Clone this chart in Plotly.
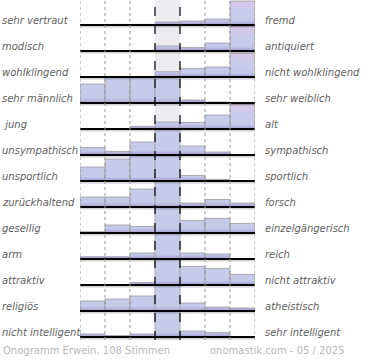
import plotly.graph_objects as go

left_labels = ["sehr vertraut", "modisch", "wohlklingend", "sehr männlich", " jung",
               "unsympathisch", "unsportlich", "zurückhaltend", "gesellig", "arm",
               "attraktiv", "religiös", "nicht intelligent"]
right_labels = ["fremd", "antiquiert", "nicht wohlklingend", "sehr weiblich", "alt",
                "sympathisch", "sportlich", "forsch", "einzelgängerisch", "reich",
                "nicht attraktiv", "atheistisch", "sehr intelligent"]

# bar heights for each of the 7 scale positions (rows in label order); a full row = 26
pos_1 = [0, 0, 0, 19, 0, 7.6, 14, 10, 1.3, 2.3, 0, 10, 3]
pos_2 = [0.6, 0, 0, 26, 0, 3.6, 22, 10, 8, 2.3, 0, 12, 1.5]
pos_3 = [0.6, 0.6, 0, 26, 2.6, 13, 26, 18, 6.6, 6, 2.6, 15, 3]
pos_4 = [3, 5, 5.3, 26, 7, 26, 26, 26, 26, 26, 26, 26, 26]
pos_5 = [4, 3.6, 8.6, 3, 6.6, 9, 5.6, 4, 12.6, 6, 18.6, 8, 6]
pos_6 = [6, 8, 10, 1, 14, 3, 1.6, 7.5, 14.6, 5, 16.6, 4, 4.6]
pos_7 = [24, 24.6, 24, 0, 24.6, 0, 0, 4, 9.6, 0, 10.6, 3, 0]

footer_left = "Onogramm Erwein, 108 Stimmen"
footer_right = "onomastik.com - 05 / 2025"

positions = [pos_1, pos_2, pos_3, pos_4, pos_5, pos_6, pos_7]
ROW = 26
n_rows = len(left_labels)

W, H = 370, 360
ML, MR, MT, MB = 80, 115, 0, 20
PLOT_W = W - ML - MR
PLOT_H = H - MT - MB

blue_scale = [[0, "#a395cb"], [0.09, "#b4b4de"], [0.17, "#c5c9e9"], [1, "#c9cdeb"]]
pink_scale = [[0, "#a395cb"], [0.09, "#b4b4de"], [0.17, "#c5c9e9"], [0.55, "#c9cbeb"], [1, "#ddc7e6"]]

fig = go.Figure()

for i in range(n_rows):
    base = (n_rows - 1 - i) * ROW
    for j, col in enumerate(positions):
        h = col[i]
        if h <= 0:
            continue
        fig.add_trace(go.Scatter(
            x=[j, j, j + 1, j + 1, j],
            y=[base, base + h, base + h, base, base],
            mode="lines", fill="toself",
            fillgradient=dict(type="vertical",
                              colorscale=pink_scale if j == 6 else blue_scale,
                              start=base, stop=base + ROW),
            line=dict(color="rgba(160,160,168,0.85)", width=1),
            hoverinfo="skip", showlegend=False,
        ))

for i in range(n_rows):
    base = (n_rows - 1 - i) * ROW
    fig.add_trace(go.Scatter(x=[0, 7], y=[base - 1.5, base - 1.5], mode="lines",
                             line=dict(color="rgba(0,0,0,0.18)", width=2),
                             hoverinfo="skip", showlegend=False))
    fig.add_trace(go.Scatter(x=[0, 7], y=[base, base], mode="lines",
                             line=dict(color="black", width=2),
                             hoverinfo="skip", showlegend=False))

shapes = [dict(type="rect", xref="x", yref="paper", x0=3, x1=4, y0=0, y1=1,
               fillcolor="#ececf0", line=dict(width=0), layer="below")]
for xv in [0, 1, 2, 5, 6, 7]:
    shapes.append(dict(type="line", xref="x", yref="paper", x0=xv, x1=xv, y0=0, y1=1,
                       line=dict(color="#999999", width=1, dash="dot"), layer="above"))
for xv in [3, 4]:
    shapes.append(dict(type="line", xref="x", yref="paper", x0=xv, x1=xv, y0=0, y1=1,
                       line=dict(color="black", width=1.2, dash="dash"), layer="above"))

label_font = dict(family="DejaVu Sans", size=10, color="#606060")
annotations = []
for i in range(n_rows):
    base = (n_rows - 1 - i) * ROW
    annotations.append(dict(text=f"<i>{left_labels[i]}</i>", xref="paper", yref="y",
                            x=-ML / PLOT_W, y=base, xanchor="left", yanchor="bottom",
                            yshift=-3, showarrow=False, font=label_font))
    annotations.append(dict(text=f"<i>{right_labels[i]}</i>", xref="paper", yref="y",
                            x=(263 - ML) / PLOT_W, y=base, xanchor="left", yanchor="bottom",
                            yshift=-3, showarrow=False, font=label_font))

foot_font = dict(family="DejaVu Sans", size=10, color="#b8b8b8")
annotations.append(dict(text=footer_left, xref="paper", yref="paper",
                        x=-(ML - 1) / PLOT_W, y=-18 / PLOT_H, xanchor="left", yanchor="bottom",
                        showarrow=False, font=foot_font))
annotations.append(dict(text=footer_right, xref="paper", yref="paper",
                        x=(347 - ML) / PLOT_W, y=-18 / PLOT_H, xanchor="right", yanchor="bottom",
                        showarrow=False, font=foot_font))

fig.update_layout(
    width=W, height=H,
    margin=dict(l=ML, r=MR, t=MT, b=MB),
    paper_bgcolor="white", plot_bgcolor="white",
    xaxis=dict(range=[0, 7], visible=False, fixedrange=True),
    yaxis=dict(range=[-3, PLOT_H - 3], visible=False, fixedrange=True),
    shapes=shapes, annotations=annotations,
    showlegend=False,
)

fig.write_html("out.html", config={"displayModeBar": False},
               post_script="document.body.style.margin='0';")
